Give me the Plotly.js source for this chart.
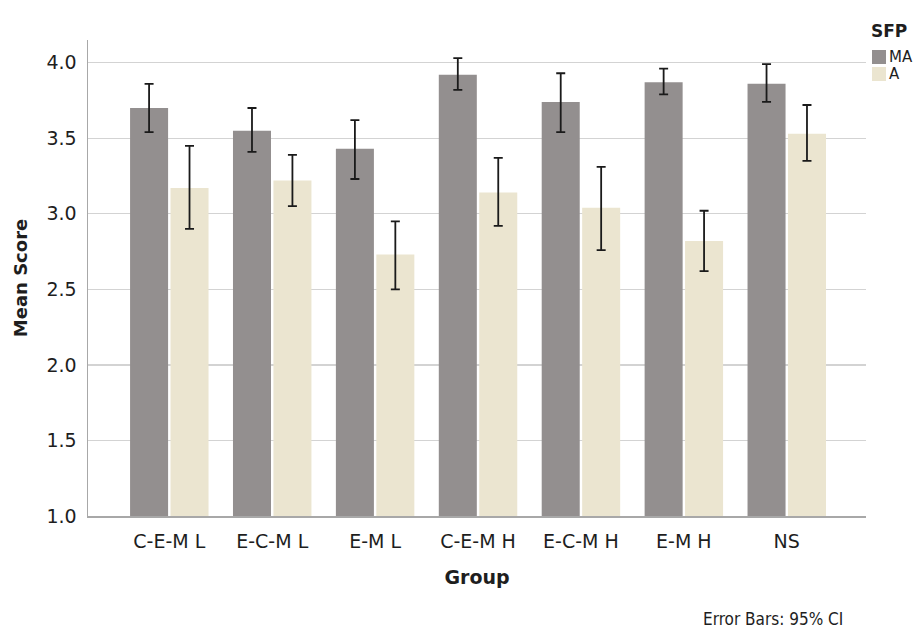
<!DOCTYPE html>
<html>
<head>
<meta charset="utf-8">
<script src="https://cdn.plot.ly/plotly-3.0.1.min.js"></script>
<style>html,body{margin:0;padding:0;background:#fff;}#chart{width:917px;height:628px;}</style>
</head>
<body>
<div id="chart"></div>
<script>
var groups = ["C-E-M L", "E-C-M L", "E-M L", "C-E-M H", "E-C-M H", "E-M H", "NS"];
var maMean = [3.70, 3.55, 3.43, 3.92, 3.74, 3.87, 3.86];
var maUpper = [3.86, 3.70, 3.62, 4.03, 3.93, 3.96, 3.99];
var maLower = [3.54, 3.41, 3.23, 3.82, 3.54, 3.79, 3.74];
var aMean = [3.17, 3.22, 2.73, 3.14, 3.04, 2.82, 3.53];
var aUpper = [3.45, 3.39, 2.95, 3.37, 3.31, 3.02, 3.72];
var aLower = [2.90, 3.05, 2.50, 2.92, 2.76, 2.62, 3.35];
var yTicks = [1.0, 1.5, 2.0, 2.5, 3.0, 3.5, 4.0];
var seriesNames = ["MA", "A"];
var seriesColors = ["#938f8f", "#ebe5d0"];
var legendTitle = "SFP";

function plus(m, u) { return m.map(function (v, i) { return +(u[i] - v).toFixed(3); }); }
function minus(m, l) { return m.map(function (v, i) { return +(v - l[i]).toFixed(3); }); }

var font = "DejaVu Sans, sans-serif";
var txt = "#1e1e1e";
var errStyle = function (m, u, l) {
  return { type: "data", symmetric: false, array: plus(m, u), arrayminus: minus(m, l),
           color: "#1a1a1a", thickness: 1.8, width: 4.5 };
};

var traces = [
  { type: "bar", name: seriesNames[0], x: groups, y: maMean, marker: { color: seriesColors[0] },
    error_y: errStyle(maMean, maUpper, maLower) },
  { type: "bar", name: seriesNames[1], x: groups, y: aMean, marker: { color: seriesColors[1] },
    error_y: errStyle(aMean, aUpper, aLower) }
];

// paper-coordinate helpers for the hand-placed legend (plot area: x 88..866, y 40..516)
function px(x) { return (x - 88) / 778; }
function py(y) { return (516 - y) / 476; }

var shapes = [];
var annotations = [
  { xref: "paper", yref: "paper", x: px(889), xanchor: "center", y: py(31), yanchor: "middle",
    text: "<b>" + legendTitle + "</b>", showarrow: false, font: { size: 17, color: txt } }
];
seriesNames.forEach(function (name, i) {
  var top = 50 + i * 17;
  shapes.push({ type: "rect", xref: "paper", yref: "paper",
    x0: px(872), x1: px(886), y0: py(top + 14), y1: py(top),
    fillcolor: seriesColors[i], line: { width: 0 } });
  annotations.push({ xref: "paper", yref: "paper", x: px(887), xanchor: "left",
    y: py(top + 7), yanchor: "middle", text: name, showarrow: false,
    font: { size: 15, color: txt } });
});
annotations.push({ xref: "paper", yref: "paper", x: px(845), xanchor: "right", y: py(619), yanchor: "middle",
  text: "Error Bars: 95% CI", showarrow: false,
  font: { family: "Liberation Sans Narrow, DejaVu Sans Condensed, Open Sans, sans-serif", size: 17, color: txt } });

var layout = {
  width: 917, height: 628,
  margin: { l: 88, r: 51, t: 40, b: 112, autoexpand: false },
  paper_bgcolor: "#ffffff", plot_bgcolor: "#ffffff",
  barmode: "group", bargap: 0.214, bargroupgap: 0.06,
  font: { family: font, color: txt },
  showlegend: false,
  xaxis: {
    range: [-0.79, 6.77], showgrid: false, zeroline: false,
    showline: true, linecolor: "#a8a8a8", linewidth: 1.5,
    ticks: "", tickfont: { size: 19, color: txt }, ticklabelstandoff: 8,
    title: { text: "<b>Group</b>", font: { size: 19, color: txt }, standoff: 19 }
  },
  yaxis: {
    range: [1, 4.15], tickvals: yTicks, ticktext: yTicks.map(function (v) { return v.toFixed(1); }),
    showgrid: true, gridcolor: "#d3d3d3", gridwidth: 1.3, zeroline: false,
    showline: true, linecolor: "#a8a8a8", linewidth: 1.5,
    ticks: "", ticklen: 0, tickfont: { size: 19, color: txt }, ticklabelstandoff: 6,
    title: { text: "<b>Mean Score</b>", font: { size: 18, color: txt }, standoff: 14 }
  },
  shapes: shapes,
  annotations: annotations
};

Plotly.newPlot("chart", traces, layout, { displayModeBar: false, staticPlot: true });
</script>
</body>
</html>
